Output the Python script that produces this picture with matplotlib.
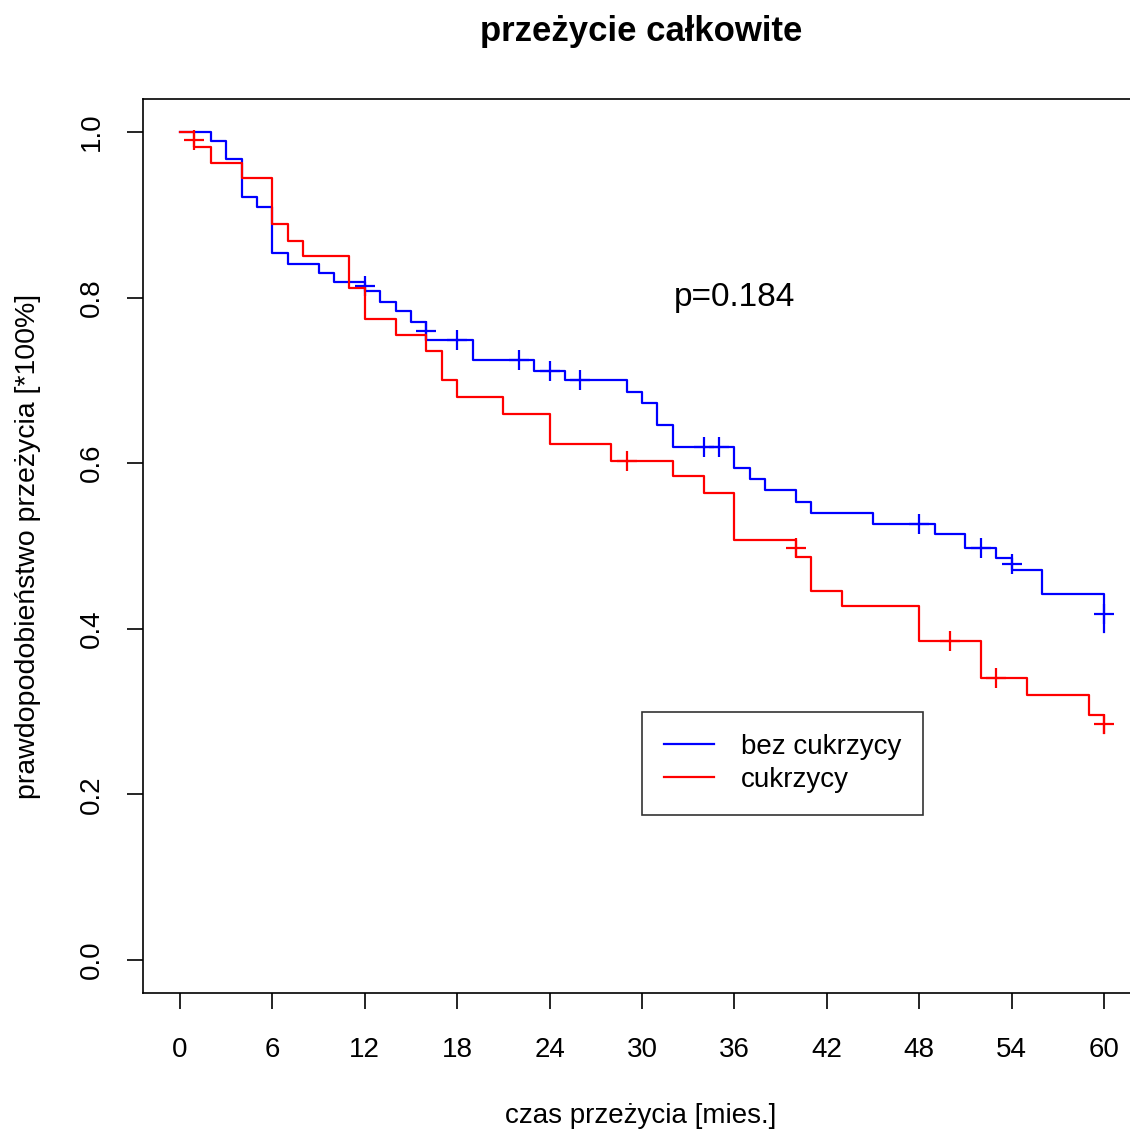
import matplotlib
matplotlib.use('Agg')
import matplotlib.pyplot as plt

plt.rcParams['font.family'] = ['Liberation Sans', 'DejaVu Sans']

# Kaplan-Meier steps, months vs survival
czas_bez = [0, 2, 3, 4, 5, 6, 7, 9, 10, 12, 13, 14, 15, 16, 19, 23, 25, 29, 30, 31,
            32, 36, 37, 38, 40, 41, 45, 49, 51, 53, 54, 56, 60]
surv_bez = [1.0, 0.989, 0.967, 0.922, 0.910, 0.854, 0.841, 0.830, 0.819, 0.808, 0.795,
            0.784, 0.771, 0.749, 0.725, 0.712, 0.700, 0.686, 0.673, 0.646, 0.620, 0.594,
            0.581, 0.568, 0.553, 0.540, 0.527, 0.514, 0.498, 0.486, 0.471, 0.442, 0.396]
cenz_t_bez = [12, 16, 18, 22, 24, 26, 34, 35, 48, 52, 54, 60]
cenz_s_bez = [0.814, 0.760, 0.749, 0.725, 0.712, 0.700, 0.620, 0.620, 0.527, 0.498, 0.478, 0.418]

czas_cuk = [0, 0.9, 2, 4, 6, 7, 8, 11, 12, 14, 16, 17, 18, 21, 24, 28, 32, 34, 36, 40,
            41, 43, 48, 52, 55, 59, 60]
surv_cuk = [1.0, 0.982, 0.963, 0.945, 0.889, 0.869, 0.850, 0.812, 0.774, 0.755, 0.736,
            0.700, 0.680, 0.660, 0.623, 0.603, 0.584, 0.564, 0.507, 0.487, 0.446, 0.427,
            0.385, 0.341, 0.320, 0.296, 0.274]
cenz_t_cuk = [0.9, 29, 40, 50, 53, 60]
cenz_s_cuk = [0.991, 0.603, 0.497, 0.385, 0.341, 0.285]

x_ticks = [0, 6, 12, 18, 24, 30, 36, 42, 48, 54, 60]
y_ticks = [0.0, 0.2, 0.4, 0.6, 0.8, 1.0]
p_value = 0.184

fig = plt.figure(figsize=(11.3, 11.3), dpi=100)
ax = fig.add_axes([143/1130, 1 - 993/1130, 998/1130, 894/1130])

ax.step(czas_bez, surv_bez, where='post', color='#0000ff', lw=1.6, label='bez cukrzycy')
ax.plot(cenz_t_bez, cenz_s_bez, ls='none', marker='+', ms=14, mew=1.6, color='#0000ff')
ax.step(czas_cuk, surv_cuk, where='post', color='#ff0000', lw=1.6, label='cukrzycy')
ax.plot(cenz_t_cuk, cenz_s_cuk, ls='none', marker='+', ms=14, mew=1.6, color='#ff0000')

ax.set_xlim(-2.4, 62.4)
ax.set_ylim(-0.04, 1.04)
ax.set_xticks(x_ticks)
ax.set_xticklabels([str(v) for v in x_ticks])
ax.set_yticks(y_ticks)
ax.set_yticklabels(['%.1f' % v for v in y_ticks], rotation=90, va='center')
ax.tick_params(length=11.5, width=1.2, labelsize=20)
ax.tick_params(axis='x', pad=20)
ax.tick_params(axis='y', pad=16)
for s in ax.spines.values():
    s.set_linewidth(1.2)

ax.text(36, 0.8, 'p=%.3f' % p_value, fontsize=24, ha='center', va='center')

leg = ax.legend(loc='upper left', bbox_to_anchor=(30, 0.3), bbox_transform=ax.transData,
                fontsize=20, frameon=True, fancybox=False, edgecolor='black',
                handlelength=1.8, handletextpad=0.95, borderpad=0.8, labelspacing=0.25,
                borderaxespad=0)
leg.get_frame().set_linewidth(1.2)

fig.text(641/1130, 1 - 32/1130, 'przeżycie całkowite', fontsize=25, fontweight='bold',
         ha='center', va='center')
fig.text(641/1130, 1 - 1116/1130, 'czas przeżycia [mies.]', fontsize=20,
         ha='center', va='center')
fig.text(28/1130, 1 - 546/1130, 'prawdopodobieństwo przeżycia [*100%]', fontsize=20.5,
         ha='center', va='center', rotation=90)

fig.savefig('out.png', dpi=100)
